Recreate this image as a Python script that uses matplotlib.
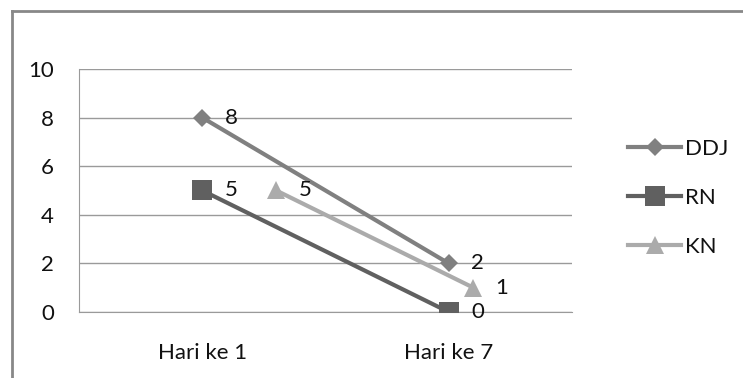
import matplotlib
matplotlib.use("Agg")
import matplotlib.pyplot as plt
from matplotlib.lines import Line2D

plt.rcParams['font.family'] = ['Lato', 'DejaVu Sans']

# data
kategori = ['Hari ke 1', 'Hari ke 7']
ddj = [8, 2]
rn = [5, 0]
kn = [5, 1]
y_ticks = [0, 2, 4, 6, 8, 10]

fs = 16

fig = plt.figure(figsize=(7.43, 3.78), dpi=100)
ax = fig.add_axes([79 / 743, 1 - 312 / 378, 493 / 743, 243 / 378])

x = list(range(len(kategori)))
# KN di chart asli agak bergeser ke kanan
kn_geser = [0.3, 0.1]
x_kn = [a + b for a, b in zip(x, kn_geser)]

seri = [
    ('DDJ', x, ddj, '#808080', 'D', 9.5),
    ('RN', x, rn, '#606060', 's', 14),
    ('KN', x_kn, kn, '#ababab', '^', 13),
]
for nama, xs, ys, warna, mk, ms in seri:
    ax.plot(xs, ys, color=warna, lw=3, marker=mk, markersize=ms,
            markeredgewidth=0, label=nama, zorder=3)
    for xi, yi in zip(xs, ys):
        ax.annotate(str(yi), (xi, yi), xytext=(16, 0), textcoords='offset points',
                    ha='left', va='center', fontsize=fs, color='#111111', zorder=4)

ax.set_xlim(-0.5, 1.5)
ax.set_ylim(0, 10)
ax.set_yticks(y_ticks)
ax.set_xticks(x)
ax.set_xticklabels(kategori)
ax.tick_params(axis='y', length=0, pad=18, labelsize=fs, colors='#111111')
ax.tick_params(axis='x', length=0, pad=22, labelsize=fs, colors='#111111')
ax.grid(axis='y', color='#9a9a9a', lw=1)
ax.set_axisbelow(True)
for s in ['top', 'right']:
    ax.spines[s].set_visible(False)
ax.spines['left'].set_color('#9a9a9a')
ax.spines['bottom'].set_color('#9a9a9a')

ax.legend(loc='center left', bbox_to_anchor=((628 - 79) / 493, (312 - 198) / 243),
          frameon=False, fontsize=fs, handlelength=2.4, handletextpad=0.15,
          labelspacing=1.3, borderaxespad=0, borderpad=0, labelcolor='#111111')

# bingkai chart
fig.add_artist(Line2D([11.5 / 743, 1], [1 - 11 / 378] * 2, color='#888888', lw=2))
fig.add_artist(Line2D([11.5 / 743] * 2, [0, 1 - 11 / 378], color='#888888', lw=2))

fig.savefig('out.png', dpi=100)
